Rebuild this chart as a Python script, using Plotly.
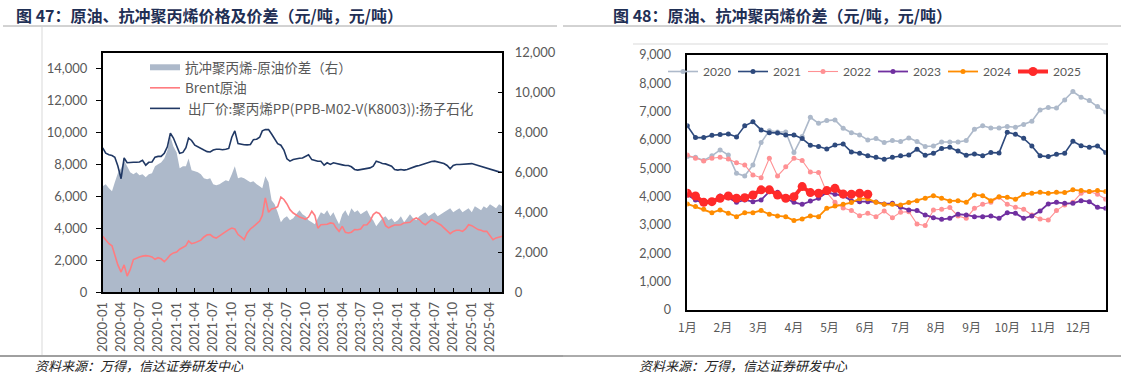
import plotly.graph_objects as go

# Figure fills the whole 1126x381 window (the page's default body margin is removed below),
# so all layout positions are given in window pixels.
W, H = 1126, 381

# ---------------- Left chart data (semi-monthly: 1st and 16th of each month) ----------------
left_dates = [f"{2020 + (i // 2) // 12}-{(i // 2) % 12 + 1:02d}-{'01' if i % 2 == 0 else '16'}"
              for i in range(131)]

pp_price = [
    9030, 8700, 8600, 8550, 8450, 7900, 7100, 8400, 8100, 8130,
    8130, 8130, 8150, 8250, 7950, 8130, 8150, 8450, 8500, 8500,
    8700, 9100, 9950, 9650, 9150, 8700, 8750, 9050, 9650, 9500,
    9200, 9100, 8950, 8900, 8800, 8780, 8900, 8950, 8950, 8920,
    8950, 9000, 9700, 10100, 9300, 9250, 9230, 9220, 9250, 9550,
    9580, 9700, 10100, 10180, 10180, 9900, 9600, 9300, 9200, 8900,
    8350, 8200, 8300, 8350, 8380, 8400, 8500, 8600, 8300, 8250,
    8200, 8200, 7950, 8100, 8000, 8100, 8050, 8000, 7970, 7930,
    7930, 7850, 7680, 7640, 7680, 7720, 7760, 7780, 7890, 8200,
    8140, 8050, 8030, 7970, 7890, 7680, 7640, 7680, 7640, 7680,
    7760, 7820, 7890, 7930, 7990, 8050, 8140, 8180, 8200, 8160,
    8120, 8050, 7930, 7720, 7930, 7990, 7990, 8010, 8030, 8070,
    8050, 7990, 7930, 7890, 7820, 7760, 7680, 7620, 7570, 7530,
    7510,
]

brent = [
    3490, 3250, 3030, 2900, 2300, 1700, 1250, 1700, 1000, 1400,
    2030, 2130, 2200, 2250, 2280, 2260, 2200, 2050, 2150, 2080,
    1900, 2100, 2330, 2450, 2500, 2680, 2800, 2900, 3200, 3030,
    3080, 3180, 3250, 3450, 3580, 3600, 3450, 3380, 3500, 3660,
    3780, 3910, 4010, 3950, 3600, 3450, 3280, 3700, 3950, 4100,
    4300, 4450, 4800, 5900, 5000, 5200, 5250, 5350, 5950, 5800,
    5520, 5160, 4950, 4800, 4700, 4640, 4560, 4700, 5060, 4800,
    4000, 4220, 4220, 4250, 4330, 4300, 4020, 3800, 4120, 3740,
    3700, 3750, 3910, 3900, 3950, 4200, 4220, 4430, 4850, 5000,
    4920, 4640, 4160, 4020, 4120, 4200, 4200, 4220, 4330, 4330,
    4370, 4540, 4640, 4540, 4330, 4220, 4370, 4540, 4430, 4330,
    4200, 4020, 3800, 3660, 3800, 3870, 3870, 3800, 3950, 4220,
    4160, 4020, 3910, 3870, 3800, 3800, 3490, 3280, 3390, 3450,
    3490,
]

spread = [
    5300, 5400, 5200, 5050, 5500, 5950, 6200, 6600, 6300, 6000,
    5900, 6000, 5850, 5900, 5750, 5900, 5950, 6300, 6400, 6500,
    6700, 7100, 7800, 7300, 7000, 6200, 6300, 6300, 6700, 6100,
    6050, 6000, 5900, 5700, 5650, 5700, 5400, 5350, 5400, 5500,
    5600, 5550, 5900, 6300, 5700, 5750, 5700, 5600, 5500, 5550,
    5400, 5300, 5200, 5800, 5500, 4600, 4400, 4000, 3500, 3700,
    3800, 3600, 3700, 3900, 4100, 3900, 3800, 3600, 3500, 3400,
    3700, 4000, 3900, 4100, 3800, 4000, 3700, 3400, 3900, 4100,
    3800, 4200, 4000, 4100, 3900, 4000, 4100, 3800, 3600, 3300,
    3500, 3700, 3800, 3600, 3700, 3500, 3600, 3800, 3500, 3700,
    3900, 3700, 3600, 3800, 3900, 4000, 3800, 3900, 4000, 3800,
    3900, 4000, 4100, 4200, 4000, 4100, 4200, 4000, 4100, 4200,
    4000, 4300, 4200, 4100, 4300, 4200, 4400, 4300, 4200, 4400,
    4300,
]

left_names = ["抗冲聚丙烯-原油价差（右）", "Brent原油", " 出厂价:聚丙烯PP(PPB-M02-V(K8003)):扬子石化"]

# ---------------- Right chart data (weekly) ----------------
weeks = list(range(52))
month_labels = ["1月", "2月", "3月", "4月", "5月", "6月", "7月", "8月", "9月", "10月", "11月", "12月"]

y2020 = [5415, 5390, 5275, 5440, 5650, 5470, 4825, 4730, 5120, 5910,
         6330, 6285, 6285, 5555, 6120, 6800, 6590, 6685, 6710, 6415,
         6260, 6180, 6000, 6050, 5910, 5980, 5945, 6075, 5945, 5770,
         5790, 5930, 5930, 5930, 5980, 6380, 6500, 6425, 6425, 6475,
         6450, 6545, 6660, 7060, 7145, 7130, 7415, 7710, 7510, 7390,
         7180, 6990]
y2021 = [6500, 6085, 6085, 6170, 6190, 6215, 6110, 6500, 6640, 6355,
         6260, 6250, 6180, 6180, 6050, 5815, 5770, 5685, 5825, 5860,
         5580, 5530, 5440, 5390, 5320, 5390, 5440, 5470, 5670, 5460,
         5530, 5700, 5745, 5615, 5460, 5510, 5440, 5555, 5545, 6275,
         6200, 6060, 5790, 5440, 5415, 5500, 5530, 5955, 5800, 5745,
         5790, 5555]
y2022 = [5470, 5355, 5260, 5355, 5390, 5330, 5200, 5120, 4765, 4670,
         5355, 4730, 5060, 5355, 5275, 4870, 4850, 4150, 3800, 3600,
         3510, 3330, 3415, 3295, 3495, 3260, 3450, 3470, 3035, 2980,
         3530, 3555, 3615, 3320, 3235, 3590, 3730, 3800, 3980, 3730,
         3625, 3555, 3355, 3215, 3180, 3510, 3710, 3800, 4120, 4180,
         4085, 3910]
y2023 = [4060, 3885, 3765, 3825, 4025, 3965, 3800, 3885, 3825, 3885,
         4180, 4155, 3945, 3800, 3730, 3850, 3945, 4145, 4085, 4025,
         3860, 3825, 3825, 3815, 3745, 3765, 3625, 3530, 3510, 3355,
         3260, 3200, 3235, 3380, 3355, 3295, 3295, 3320, 3235, 3435,
         3415, 3235, 3320, 3495, 3745, 3800, 3765, 3765, 3860, 3825,
         3625, 3590]
y2024 = [3745, 3650, 3555, 3435, 3530, 3415, 3295, 3435, 3435, 3510,
         3380, 3320, 3295, 3155, 3215, 3320, 3295, 3590, 3670, 3730,
         3790, 3930, 3930, 3800, 3730, 3730, 3710, 3790, 3860, 3945,
         4035, 3945, 3850, 3860, 3800, 4060, 4035, 3860, 4000, 3980,
         3910, 4085, 4120, 4155, 4120, 4155, 4145, 4240, 4215, 4180,
         4215, 4180]
y2025 = [4120, 4025, 3800, 3825, 3945, 4025, 3945, 3965, 4060, 4240,
         4240, 4060, 3945, 4000, 4355, 4145, 4120, 4215, 4295, 4095,
         4085, 4120, 4085]

right_series = [
    ("2020", y2020, "#ADB9CA", 1.6, 5),
    ("2021", y2021, "#2E4A7D", 1.6, 5),
    ("2022", y2022, "#FF9194", 1.1, 5),
    ("2023", y2023, "#7030A0", 1.8, 5),
    ("2024", y2024, "#FF8C00", 1.8, 5),
    ("2025", y2025, "#FF2A2A", 4.0, 9),
]

FONT = "Lato, 'Noto Sans CJK SC', sans-serif"
CJK = "'Noto Sans CJK SC', Lato, sans-serif"
GRAY = "#595959"

def px(x):
    return x / W

def py(y):
    return 1 - y / H

fig = go.Figure()

# Left chart traces: area on the base (right-side) axis so the lines on the overlay axis sit on top
fig.add_trace(go.Scatter(
    x=left_dates, y=spread, name=left_names[0], mode="none", fill="tozeroy",
    fillcolor="#ADB9CA", yaxis="y", xaxis="x", legend="legend"))
fig.add_trace(go.Scatter(
    x=left_dates, y=brent, name=left_names[1], mode="lines",
    line=dict(color="#FF7C80", width=1.6), yaxis="y2", xaxis="x", legend="legend"))
fig.add_trace(go.Scatter(
    x=left_dates, y=pp_price, name=left_names[2], mode="lines",
    line=dict(color="#203864", width=1.6), yaxis="y2", xaxis="x", legend="legend"))

# Right chart traces
for name, vals, color, lw, ms in right_series:
    fig.add_trace(go.Scatter(
        x=weeks[:len(vals)], y=vals, name=name, mode="lines+markers",
        line=dict(color=color, width=lw), marker=dict(color=color, size=ms),
        xaxis="x3", yaxis="y3", legend="legend2"))

tick_font = dict(family=FONT, size=13, color=GRAY)

fig.update_layout(
    width=W, height=H,
    margin=dict(l=0, r=0, t=0, b=0, autoexpand=False),
    paper_bgcolor="white", plot_bgcolor="white",
    showlegend=True,
    xaxis=dict(
        domain=[px(102.7), px(502.3)], anchor="y", automargin=False,
        type="date", range=["2020-01-01", "2025-06-01"],
        tick0="2020-01-01", dtick="M3", tickformat="%Y-%m", tickangle=-90,
        ticks="inside", ticklen=4, tickcolor="black",
        showline=True, linecolor="black", linewidth=1.5, mirror=True,
        showgrid=False, zeroline=False, tickfont=tick_font, ticklabelstandoff=3,
    ),
    yaxis=dict(
        domain=[py(292), py(52.7)], anchor="x", side="right", automargin=False,
        range=[0, 12000], dtick=2000, tickformat=",d",
        ticks="inside", ticklen=5, tickcolor="black",
        showline=True, linecolor="black", linewidth=1.5,
        showgrid=False, zeroline=False, tickfont=tick_font, ticklabelstandoff=8,
    ),
    yaxis2=dict(
        overlaying="y", side="left", anchor="x", automargin=False,
        range=[0, 15000], dtick=2000, tickformat=",d",
        ticks="outside", ticklen=5, tickcolor="black",
        showline=True, linecolor="black", linewidth=1.5,
        showgrid=False, zeroline=False, tickfont=tick_font, ticklabelstandoff=6,
    ),
    xaxis3=dict(
        domain=[px(687.3), px(1105.7)], anchor="y3", automargin=False,
        range=[0, 51], tickvals=[i * 52 / 12 for i in range(12)], ticktext=month_labels,
        ticks="", showline=True, linecolor="black", linewidth=1.5, mirror=True,
        showgrid=False, zeroline=False, tickfont=dict(family=CJK, size=12, color=GRAY),
        ticklabelstandoff=6,
    ),
    yaxis3=dict(
        domain=[py(310), py(55)], anchor="x3", automargin=False,
        range=[0, 9000], dtick=1000, tickformat=",d",
        ticks="", showline=True, linecolor="black", linewidth=1.5, mirror=True,
        showgrid=False, zeroline=False, tickfont=dict(family=FONT, size=12.5, color=GRAY),
        ticklabelstandoff=12,
    ),
    legend=dict(
        x=px(145), y=py(52), xanchor="left", yanchor="top",
        bgcolor="rgba(0,0,0,0)", font=dict(family=CJK, size=13.5, color=GRAY),
        traceorder="normal", itemwidth=30,
    ),
    legend2=dict(
        orientation="h", x=px(663), y=py(57), xanchor="left", yanchor="top",
        bgcolor="rgba(0,0,0,0)", font=dict(family=FONT, size=12, color=GRAY),
        traceorder="normal", itemwidth=30, entrywidth=25, entrywidthmode="pixels",
    ),
)

# Titles
TITLE_FONT = dict(family=CJK, size=16, color="#1F2F55")
fig.add_annotation(text="<b>图 47：原油、抗冲聚丙烯价格及价差（元/吨，元/吨）</b>",
                   x=px(14), y=py(14.5), xref="paper", yref="paper", xanchor="left", yanchor="middle",
                   showarrow=False, font=TITLE_FONT)
fig.add_annotation(text="<b>图 48：原油、抗冲聚丙烯价差（元/吨，元/吨）</b>",
                   x=px(611), y=py(14.5), xref="paper", yref="paper", xanchor="left", yanchor="middle",
                   showarrow=False, font=TITLE_FONT)
# Sources
for sx in (33, 637):
    fig.add_annotation(text="<i>资料来源：万得，信达证券研发中心</i>",
                       x=px(sx), y=py(365), xref="paper", yref="paper", xanchor="left", yanchor="middle",
                       showarrow=False, font=dict(family=CJK, size=13, color="#222222"))

# Decorative frame lines
lines = [
    (3, 26, 557, 26, "#A6A6A6", 1),
    (563, 26, 1121, 26, "#A6A6A6", 1),
    (42, 27, 42, 355, "#D9D9D9", 1),
    (633, 44, 1108, 44, "#D9D9D9", 1),
    (0, 356, 563, 356, "#404040", 1),
    (563, 356, 1121, 356, "#595959", 1),
]
for x0, y0, x1, y1, c, w in lines:
    fig.add_shape(type="line", xref="paper", yref="paper",
                  x0=px(x0), y0=py(y0), x1=px(x1), y1=py(y1), line=dict(color=c, width=w))

fig.write_html("out.html", config={"displayModeBar": False},
               post_script="document.body.style.margin='0';")
